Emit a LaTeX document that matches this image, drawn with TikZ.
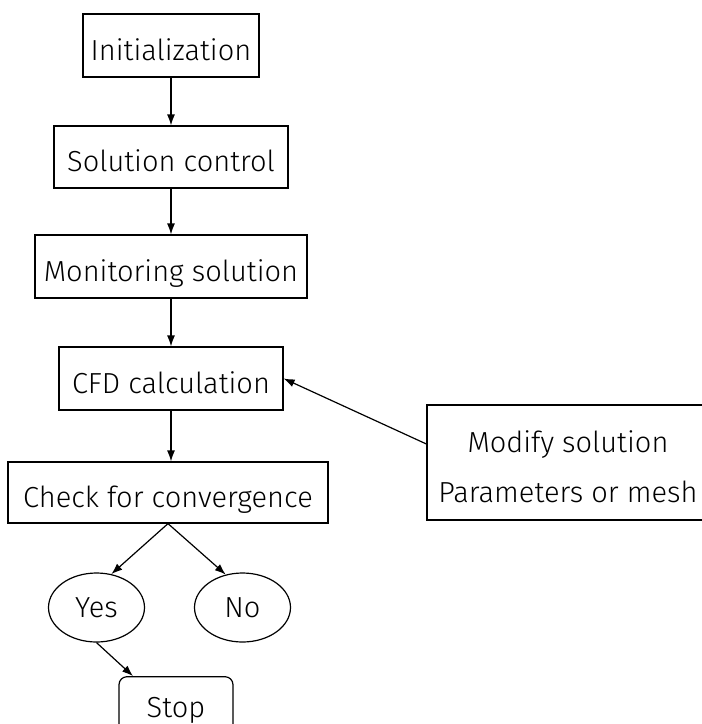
\documentclass[tikz,border=0pt]{standalone}
\usepackage{fontspec}
\setmainfont{Fira Sans}[UprightFont=* Light]
\usetikzlibrary{arrows.meta}
\usetikzlibrary{shapes.geometric}
\usetikzlibrary{positioning}
\tikzset{
  >={Latex[length=11pt, width=8pt]},
  line/.style = {->, line width=1.2pt},
  stepbox/.style = {draw, line width=1.2pt, inner sep=0pt, align=center,
    text height=29pt, text depth=0pt, font=\fontsize{29}{50}\selectfont},
  answer/.style = {ellipse, draw, line width=1.2pt, inner sep=0pt,
    minimum width=96, minimum height=69, text height=20pt, text depth=0pt,
    font=\fontsize{29}{50}\selectfont},
}

\begin{document}
\begin{tikzpicture}[x=1pt, y=-1pt]
    \clip (0,0) rectangle (702,724);
    \fill[white] (0,0) rectangle (702,724);
    \node [stepbox, minimum width=176, minimum height=63] (init) at (171,45.5) {Initialization};
    \node [stepbox, minimum width=234, minimum height=62] (ctrl) at (171,157) {Solution control};
    \node [stepbox, minimum width=272, minimum height=63] (mon) at (171,266.5) {Monitoring solution};
    \node [stepbox, minimum width=224, minimum height=63] (cfd) at (171,378.5) {CFD calculation};
    \node [stepbox, minimum width=320, minimum height=61] (check) at (168,492.5) {Check for convergence};
    \node [answer] (yes) at (96.5,607.5) {Yes};
    \node [answer] (no) at (242.5,607.5) {No};
    \node [stepbox, rounded corners=8pt, minimum width=114, minimum height=58,
      text height=24pt] (stop) at (176,705.7) {Stop};
    \node [stepbox, minimum width=282, minimum height=115,
      text height=79pt] (modify) at (568,462.5) {Modify solution\\Parameters or mesh};
    \draw [line] (init) -- (ctrl);
    \draw [line] (ctrl) -- (mon);
    \draw [line] (mon) -- (cfd);
    \draw [line] (cfd.south) -- (cfd.south |- check.north);
    \draw [line] (check.south) -- (yes.66);
    \draw [line] (check.south) -- (no.117);
    \draw [line] (yes.south) -- ([xshift=-43]stop.north);
    \draw [line] ([yshift=18.5]modify.west) -- (cfd.east);
  \end{tikzpicture}
\end{document}
